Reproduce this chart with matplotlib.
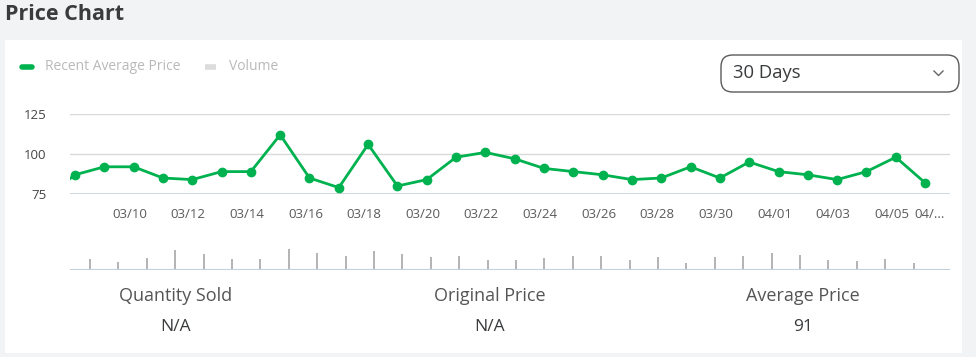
import matplotlib
matplotlib.use("Agg")
import matplotlib.pyplot as plt
from matplotlib.patches import FancyBboxPatch, Rectangle
from matplotlib.lines import Line2D
from matplotlib.transforms import ScaledTranslation
import pandas as pd
import numpy as np

# data (03/07 is only partly visible at the left edge)
dates = pd.date_range("2024-03-07", "2024-04-06", freq="D").strftime("%m/%d").tolist()
prices = [73, 87, 92, 92, 85, 84, 89, 89, 112, 85, 79, 106, 80, 84, 98, 101,
          97, 91, 89, 87, 84, 85, 92, 85, 95, 89, 87, 84, 89, 98, 82]
volume = [11, 8, 12, 20, 16, 11, 11, 21, 17, 14, 19, 16, 13, 14, 10,
          10, 12, 14, 14, 10, 13, 7, 13, 14, 17, 15, 10, 9, 11, 7]
stats = ["Quantity Sold", "Original Price", "Average Price"]
stat_values = ["N/A", "N/A", "91"]

W, H = 976, 357
GREEN = "#00b24f"
DARK = "#393b3d"

plt.rcParams["font.family"] = ["Open Sans", "DejaVu Sans"]

fig = plt.figure(figsize=(W / 100, H / 100), dpi=100)
fig.patch.set_facecolor("#f2f3f5")


def fx(x):
    return x / W


def fy(y):
    return 1 - y / H


# white card
fig.patches.append(Rectangle((fx(5), fy(353)), fx(962) - fx(5), fy(40) - fy(353),
                             transform=fig.transFigure, facecolor="white",
                             edgecolor="none", zorder=-5))

fig.text(fx(5), fy(15), "Price Chart", fontsize=15.5, fontweight="bold",
         color=DARK, va="center", ha="left")

# legend
fig.add_artist(Line2D([fx(22), fx(32)], [fy(67), fy(67)], transform=fig.transFigure,
                      color=GREEN, lw=4, solid_capstyle="round"))
fig.text(fx(45), fy(67), "Recent Average Price", fontsize=10, color="#b9b9b9",
         va="center", ha="left")
fig.add_artist(Line2D([fx(205), fx(216)], [fy(67), fy(67)], transform=fig.transFigure,
                      color="#dcdcdc", lw=4, solid_capstyle="butt"))
fig.text(fx(229), fy(67), "Volume", fontsize=10, color="#b9b9b9",
         va="center", ha="left")

# dropdown
fig.patches.append(FancyBboxPatch((fx(721), fy(92)), fx(959) - fx(721), fy(55) - fy(92),
                                  boxstyle="round,pad=0,rounding_size=0.012",
                                  transform=fig.transFigure, facecolor="white",
                                  edgecolor="#5a5a5a", lw=1, mutation_aspect=W / H))
fig.text(fx(733), fy(73), "30 Days", fontsize=13.3, color=DARK, va="center", ha="left")
fig.add_artist(Line2D([fx(934), fx(938.5), fx(943)], [fy(71), fy(75.5), fy(71)],
                      transform=fig.transFigure, color="#666666", lw=1))

# price line
x = np.arange(len(prices)) - 1
ax = fig.add_axes([fx(70), fy(194), fx(950) - fx(70), fy(114) - fy(194)], zorder=2)
ax.patch.set_alpha(0)
ax.plot(x, prices, color=GREEN, lw=2, marker="o", markersize=6, zorder=3)
ax.set_xlim(-0.17, 29.85)
ax.set_ylim(75, 125)
ax.set_yticks([75, 100, 125])
ax.grid(axis="y", color="#d9d9d9", lw=1)
ax.set_axisbelow(True)
for s in ax.spines.values():
    s.set_visible(False)
ax.axhline(75, color="#c8d0da", lw=1.2, zorder=1)
tick_idx = list(range(2, 29, 2)) + [29]
ax.set_xticks(tick_idx)
ax.set_xticklabels([dates[i + 1] if i < 29 else dates[i + 1][:3] + "..." for i in tick_idx])
ax.tick_params(axis="x", length=0, pad=10, labelsize=9.5, labelcolor="#5a5a5a")
ax.tick_params(axis="y", length=0, pad=17, labelsize=9.5, labelcolor="#444444")
shift = ScaledTranslation(-4 / 100, 0, fig.dpi_scale_trans)
labels = ax.get_xticklabels()
for lab in labels:
    lab.set_transform(lab.get_transform() + shift)
labels[-1].set_transform(labels[-1].get_transform() + ScaledTranslation(8 / 100, 0, fig.dpi_scale_trans))

# volume bars
xb = np.arange(len(volume))
axb = fig.add_axes([fx(70), fy(270), fx(950) - fx(70), fy(235) - fy(270)], zorder=2)
axb.bar(xb, volume, width=0.07, color="#b5b5b5")
axb.set_xlim(-0.704, 30.28)
axb.set_ylim(0, 35)
axb.axis("off")
axb.axhline(0, color="#c3d0de", lw=1.5)

# stats row
for cx, name, val in zip([176, 490, 803], stats, stat_values):
    fig.text(fx(cx), fy(296), name, fontsize=13, color="#555555", ha="center",
             va="center", fontweight="medium")
    fig.text(fx(cx), fy(327), val, fontsize=12.5, color=DARK, ha="center",
             va="center", fontweight="medium")

fig.savefig("out.png", dpi=100, facecolor=fig.get_facecolor())
